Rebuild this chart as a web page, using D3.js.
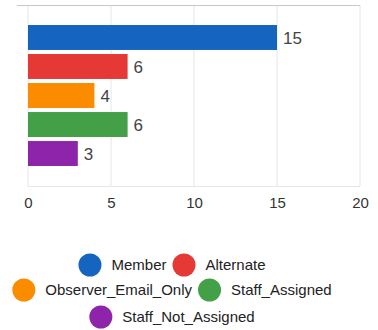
<!DOCTYPE html>
<html><head><meta charset="utf-8">
<script src="https://cdn.jsdelivr.net/npm/d3@7"></script>
<style>html,body{margin:0;padding:0;background:#fff;}svg{display:block;font-family:"Liberation Sans",Arial,sans-serif;}</style>
</head><body>
<svg id="c" width="378" height="330"></svg>
<script>
const categories = ["Member","Alternate","Observer_Email_Only","Staff_Assigned","Staff_Not_Assigned"];
const values = [15, 6, 4, 6, 3];
const colors = ["#1565c0","#e53935","#fb8c00","#43a047","#8e24aa"];
const xTicks = [0, 5, 10, 15, 20];

const svg = d3.select("#c");
const x = d3.scaleLinear().domain([0, 20]).range([28, 360]);
const y = d3.scaleBand().domain(categories).range([5, 186]).paddingInner(0.14).paddingOuter(0.69);

// gridlines
svg.append("g").selectAll("line").data(xTicks).join("line")
  .attr("x1", d => x(d)).attr("x2", d => x(d)).attr("y1", 5).attr("y2", 186)
  .attr("stroke", "#e6e6e6").attr("stroke-width", 1);
svg.append("line").attr("x1", 17).attr("x2", 360).attr("y1", 5.5).attr("y2", 5.5).attr("stroke", "#c8c8c8");
svg.append("line").attr("x1", 28).attr("x2", 360).attr("y1", 186.5).attr("y2", 186.5).attr("stroke", "#e6e6e6");

// bars
svg.append("g").selectAll("rect").data(categories).join("rect")
  .attr("x", x(0)).attr("y", d => y(d))
  .attr("width", (d, i) => x(values[i]) - x(0)).attr("height", y.bandwidth())
  .attr("fill", (d, i) => colors[i]);

// value labels
svg.append("g").selectAll("text").data(categories).join("text")
  .attr("x", (d, i) => x(values[i]) + 6).attr("y", d => y(d) + y.bandwidth() / 2)
  .attr("dy", "0.36em").attr("font-size", 17).attr("fill", "#444")
  .text((d, i) => values[i]);

// x axis
const ax = svg.append("g").attr("transform", "translate(0,186)")
  .call(d3.axisBottom(x).tickValues(xTicks).tickSize(0).tickPadding(11));
ax.select(".domain").remove();
ax.selectAll("text").attr("font-size", 15).attr("fill", "#333").attr("font-family", "Liberation Sans, Arial, sans-serif");

// legend
const rows = [[0, 1], [2, 3], [4]];
const rowY = [265, 290, 317];
const r = 11.5, gapCT = 10, gapItems = 6, cx = 172, fs = 15;
rows.forEach((row, ri) => {
  const g = svg.append("g");
  const widths = row.map(i => {
    const t = g.append("text").attr("font-size", fs).text(categories[i]);
    const w = t.node().getComputedTextLength(); t.remove(); return w;
  });
  const total = d3.sum(widths) + row.length * (2 * r + gapCT) + (row.length - 1) * gapItems;
  let cur = cx - total / 2;
  row.forEach((i, k) => {
    g.append("circle").attr("cx", cur + r).attr("cy", rowY[ri]).attr("r", r).attr("fill", colors[i]);
    g.append("text").attr("x", cur + 2 * r + gapCT).attr("y", rowY[ri]).attr("dy", "0.36em")
      .attr("font-size", fs).attr("fill", "#222").text(categories[i]);
    cur += 2 * r + gapCT + widths[k] + gapItems;
  });
});
</script>
</body></html>
